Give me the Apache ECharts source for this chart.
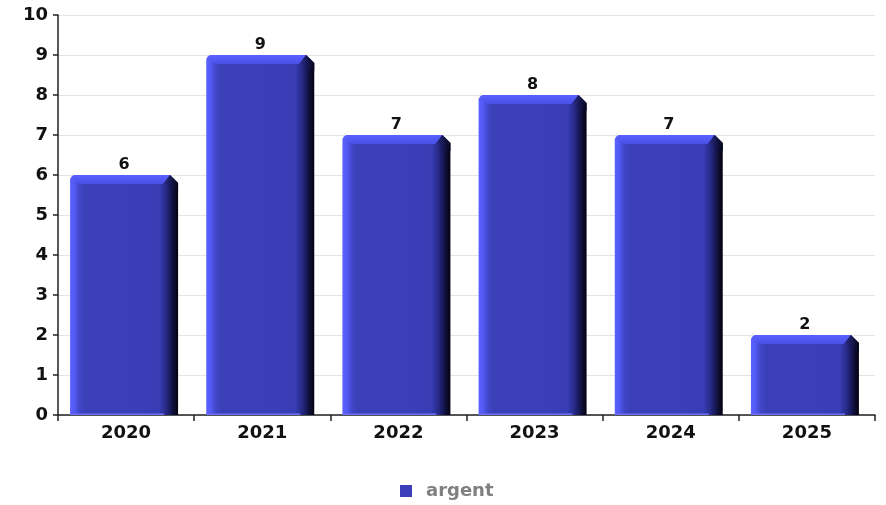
<!DOCTYPE html>
<html><head><meta charset="utf-8">
<script src="https://cdn.jsdelivr.net/npm/echarts@6/dist/echarts.min.js"></script>
<style>html,body{margin:0;padding:0;background:#fff}#c{width:886px;height:505px}</style>
</head><body><div id="c"></div>
<script>
const categories = ['2020','2021','2022','2023','2024','2025'];
const values = [6, 9, 7, 8, 7, 2];
const seriesName = 'argent';
const yTicks = [0,1,2,3,4,5,6,7,8,9,10];

const FONT = '"DejaVu Sans", sans-serif';
const chart = echarts.init(document.getElementById('c'), null, {renderer:'canvas'});

function renderItem(params, api) {
  const i = api.value(0), v = api.value(1);
  const top = api.coord([i, v]);
  const base = api.coord([i, 0]);
  const bw = 108;
  const x0 = top[0] - 56, x1 = x0 + bw;
  const yT = top[1], yB = base[1];
  const bodyGrad = new echarts.graphic.LinearGradient(0,0,1,0,[
    {offset:0, color:'#5a62ff'},
    {offset:0.04, color:'#535af5'},
    {offset:0.09, color:'#4046c6'},
    {offset:0.14, color:'#3b3fb8'},
    {offset:0.82, color:'#3a3eb6'},
    {offset:0.89, color:'#262985'},
    {offset:0.95, color:'#10113f'},
    {offset:1, color:'#03030f'}
  ]);
  const topGrad = new echarts.graphic.LinearGradient(0,0,0,1,[
    {offset:0, color:'#5a60ff'},
    {offset:1, color:'#4a50e6'}
  ]);
  const chamferGrad = new echarts.graphic.LinearGradient(0,0,1,0,[
    {offset:0, color:'#2c2f90'},
    {offset:1, color:'#04041a'}
  ]);
  return {
    type:'group',
    children:[
      {type:'polygon', shape:{points:[[x0,yB],[x0,yT+4],[x0+1.5,yT+1.5],[x0+4,yT],[x1-8,yT],[x1,yT+8],[x1,yB]]},
       style:{fill:bodyGrad}},
      {type:'polygon', shape:{points:[[x0+4,yT],[x1-8,yT],[x1-15,yT+9],[x0+9,yT+9],[x0+1,yT+3]]},
       style:{fill:topGrad}},
      {type:'polygon', shape:{points:[[x1-8,yT],[x1,yT+8],[x1,yT+16],[x1-15,yT+9]]},
       style:{fill:chamferGrad}},
      {type:'rect', shape:{x:x0, y:yB-1.5, width:bw-14, height:1.5}, style:{fill:'#6a70ff'}},
      {type:'text', style:{text:String(v), x:top[0]-2, y:yT-2, align:'center', verticalAlign:'bottom',
        font:'bold 16px '+FONT, fill:'#111'}}
    ]
  };
}

chart.setOption({
  animation:false,
  grid:{left:58, right:11, top:15, bottom:90},
  legend:{data:[{name:seriesName, icon:'rect'}], top:482, left:400, padding:0, itemWidth:12, itemHeight:12, itemGap:10,
    textStyle:{color:'#808080', fontWeight:'bold', fontSize:18, fontFamily:FONT, padding:[0,0,0,9]}},
  xAxis:{type:'category', data:categories,
    axisLine:{lineStyle:{color:'#222', width:1.5}},
    axisTick:{show:true, alignWithLabel:false, length:6, lineStyle:{color:'#222', width:1.5}},
    axisLabel:{color:'#111', fontWeight:'bold', fontSize:18, fontFamily:FONT, margin:9}},
  yAxis:{type:'value', min:0, max:10, interval:1,
    axisLine:{show:true, lineStyle:{color:'#222', width:1.5}},
    axisTick:{show:true, length:5, lineStyle:{color:'#222', width:1.5}},
    splitLine:{lineStyle:{color:'#e4e4e4', width:1}},
    axisLabel:{color:'#111', fontWeight:'bold', fontSize:18, fontFamily:FONT, margin:10}},
  series:[{
    name:seriesName, type:'custom', renderItem:renderItem,
    itemStyle:{color:'#3b3fb8'},
    encode:{x:0, y:1},
    data: values.map((v,i)=>[i, v])
  }]
});
</script></body></html>
